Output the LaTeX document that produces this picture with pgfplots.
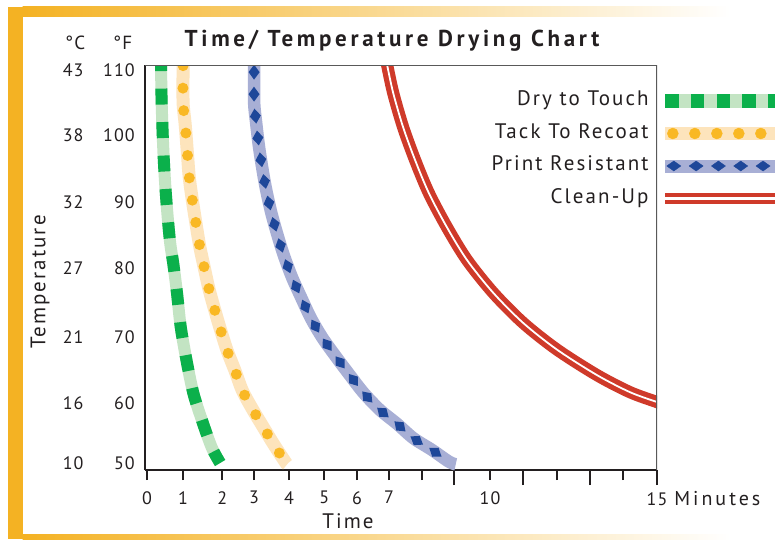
\documentclass[border=0pt]{standalone}
\usepackage{fontspec}
\setmainfont{PT Sans}[LetterSpace=6]
\usepackage{pgfplots}
\usepackage{pgfplotstable}
\pgfplotsset{compat=1.18}
\usetikzlibrary{decorations.markings}

\definecolor{ink}{HTML}{231F20}
\definecolor{frameor}{HTML}{F4B223}
\definecolor{gdark}{HTML}{0BB04B}
\definecolor{glight}{HTML}{C3E4C3}
\definecolor{odot}{HTML}{F9B824}
\definecolor{olight}{HTML}{FDE4BC}
\definecolor{bdiam}{HTML}{1E4799}
\definecolor{blight}{HTML}{A8AFD5}
\definecolor{redc}{HTML}{CF3A2A}

\newcommand{\bigtext}{\fontsize{21}{24}\selectfont\addfontfeature{LetterSpace=10}}

% time in minutes, temperature in deg F
\pgfplotstableread{
t F
0.40 111.5
0.41 110.8
0.43 105.0
0.47 98.9
0.52 93.7
0.59 88.6
0.68 83.6
0.77 80.5
0.88 76.0
0.99 70.8
1.16 65.7
1.36 60.7
1.61 56.6
1.90 52.4
2.15 50.0
}\drytouch

\pgfplotstableread{
t F
1.06 111.5
1.06 110.8
1.06 105.1
1.12 101.8
1.18 97.8
1.24 93.7
1.33 90.2
1.45 86.2
1.56 82.8
1.68 79.9
1.82 76.6
2.00 73.2
2.17 70.2
2.36 67.1
2.58 64.2
2.80 61.1
3.08 58.4
3.38 55.8
3.72 52.9
4.06 50.2
4.12 49.8
}\tackrecoat

\pgfplotstableread{
t F
3.15 111.5
3.15 110.8
3.15 105.1
3.21 101.9
3.29 98.4
3.39 95.0
3.50 91.8
3.65 88.3
3.82 85.1
4.01 81.9
4.26 78.4
4.53 75.3
4.82 72.1
5.16 69.1
5.56 66.2
5.98 63.3
6.37 60.7
6.85 58.1
7.35 56.0
7.83 53.8
8.38 52.0
8.88 50.2
9.08 49.8
}\printres

\pgfplotstableread{
t F
7.03 111.5
7.06 110.8
7.24 106.5
7.53 101.3
7.88 96.3
8.29 91.2
8.82 86.0
9.41 81.0
10.18 76.0
11.06 71.4
12.06 67.3
13.24 63.4
14.21 60.8
15.00 59.3
15.20 58.9
}\cleanup

\begin{document}
\begin{tikzpicture}[x=1pt,y=1pt,font=\fontsize{18}{21}\selectfont]
\path[use as bounding box] (0,0) rectangle (775,539);
\fill[white] (0,0) rectangle (775,539);
\fill[frameor] (8,0) rectangle (22.5,532);
\shade[left color=frameor, right color=white] (22.5,522) rectangle (730,532);
\shade[left color=frameor, right color=white] (22.5,0) rectangle (730,5);

\begin{axis}[
  at={(145pt,69pt)}, anchor=south west,
  width=512pt, height=405pt, scale only axis,
  xmin=-0.06, xmax=15, ymin=48.93, ymax=110.76,
  axis lines=left,
  axis line style={-, line width=2.2pt, ink},
  tick align=outside,
  major tick length=10pt,
  xtick={0,1.06,2.21,3.15,4.18,5.21,6.18,7.12,8.09,10.09,12.06,14.0},
  xticklabels={0,1,2,3,4,5,6,7,,10,,},
  extra x ticks={9.03,11.06,13.03,15},
  extra x tick labels={,,,{15\rlap{\hspace{7pt}\fontsize{20}{24}\selectfont\addfontfeature{LetterSpace=15}Minutes}}},
  extra x tick style={major tick length=15pt, xticklabel style={yshift=5pt}},
  x tick style={line width=1.6pt, ink},
  xticklabel style={text=ink, inner sep=0pt, anchor=north, yshift=-11pt},
  ytick={50,59.2,69.2,79.8,89.8,100.1,110},
  yticklabels={
    \makebox[25pt][l]{10}\makebox[47pt][r]{50},
    \makebox[25pt][l]{16}\makebox[47pt][r]{60},
    \makebox[25pt][l]{21}\makebox[47pt][r]{70},
    \makebox[25pt][l]{27}\makebox[47pt][r]{80},
    \makebox[25pt][l]{32}\makebox[47pt][r]{90},
    \makebox[25pt][l]{38}\makebox[47pt][r]{100},
    \makebox[25pt][l]{43}\makebox[47pt][r]{110}},
  y tick style={draw=none},
  yticklabel style={text=ink, inner sep=0pt, anchor=east},
  legend plot pos=right,
  legend cell align=right,
  legend style={draw=none, fill=none, inner sep=0pt,
    at={(1.272,0.94)}, anchor=north east,
    row sep=11.5pt, column sep=10pt, font=\bigtext,
    nodes={text=ink, inner sep=1pt, text height=15pt, text depth=4pt}},
]
% green: dry to touch
\addplot[forget plot, smooth, glight, line width=12pt] table {\drytouch};
\addplot[forget plot, smooth, gdark, line width=12pt, dash pattern=on 16pt off 17.5pt, dash phase=5pt] table {\drytouch};
% orange: tack to recoat
\addplot[forget plot, smooth, olight, line width=13pt] table {\tackrecoat};
\addplot[forget plot, smooth, odot, line width=11pt, line cap=round, dash pattern=on 0pt off 22.5pt, dash phase=17pt] table {\tackrecoat};
% blue: print resistant
\addplot[forget plot, smooth, blight, line width=12.5pt,
  postaction={decorate, decoration={markings,
    mark=between positions 12pt and -4pt step 22pt with {\path[fill=bdiam, draw=none] (-7.5pt,0pt) -- (0pt,5.5pt) -- (7.5pt,0pt) -- (0pt,-5.5pt) -- cycle;}}}] table {\printres};
% red: clean-up
\addplot[forget plot, smooth, redc, line width=5.2pt, double=white, double distance=1.8pt] table {\cleanup};

\draw[line width=1.4pt, black!65] (rel axis cs:0,1) -- (rel axis cs:1,1) -- (rel axis cs:1,0);

\addlegendimage{legend image code/.code={
  \fill[glight] (0pt,-7.5pt) rectangle (125pt,5.5pt);
  \foreach \k in {0,...,4} {\fill[gdark] (\k*25.7pt,-7.5pt) rectangle ++(12.5pt,13pt);}
}}
\addlegendentry{Dry to Touch}
\addlegendimage{legend image code/.code={
  \fill[olight] (0pt,-7pt) rectangle (125pt,5pt);
  \foreach \k in {0,...,5} {\fill[odot] (7.5pt+\k*22pt,-1pt) circle (5.5pt);}
}}
\addlegendentry{Tack To Recoat}
\addlegendimage{legend image code/.code={
  \fill[blight] (0pt,-6.8pt) rectangle (125pt,4.8pt);
  \foreach \k in {0,...,5} {\fill[bdiam, shift={(8.5pt+\k*22.3pt,-1pt)}] (-7pt,0pt) -- (0pt,5pt) -- (7pt,0pt) -- (0pt,-5pt) -- cycle;}
}}
\addlegendentry{Print Resistant}
\addlegendimage{legend image code/.code={
  \draw[redc, line width=4.5pt, double=white, double distance=2.5pt] (0pt,-1pt) -- (125pt,-1pt);
}}
\addlegendentry{Clean-Up}
\end{axis}

\node[text=ink, anchor=base, inner sep=0pt, font=\fontsize{23}{26}\selectfont\bfseries\addfontfeature{LetterSpace=16}] at (392,492) {Time/ Temperature Drying Chart};
\node[text=ink, anchor=base west, inner sep=0pt, font=\fontsize{19}{22}\selectfont] at (65,489) {°C};
\node[text=ink, anchor=base west, inner sep=0pt, font=\fontsize{19}{22}\selectfont] at (113,489) {°F};
\node[text=ink, rotate=90, inner sep=0pt, font=\bigtext] at (40,257) {Temperature};
\node[text=ink, inner sep=0pt, font=\bigtext] at (348,18) {Time};
\end{tikzpicture}
\end{document}
